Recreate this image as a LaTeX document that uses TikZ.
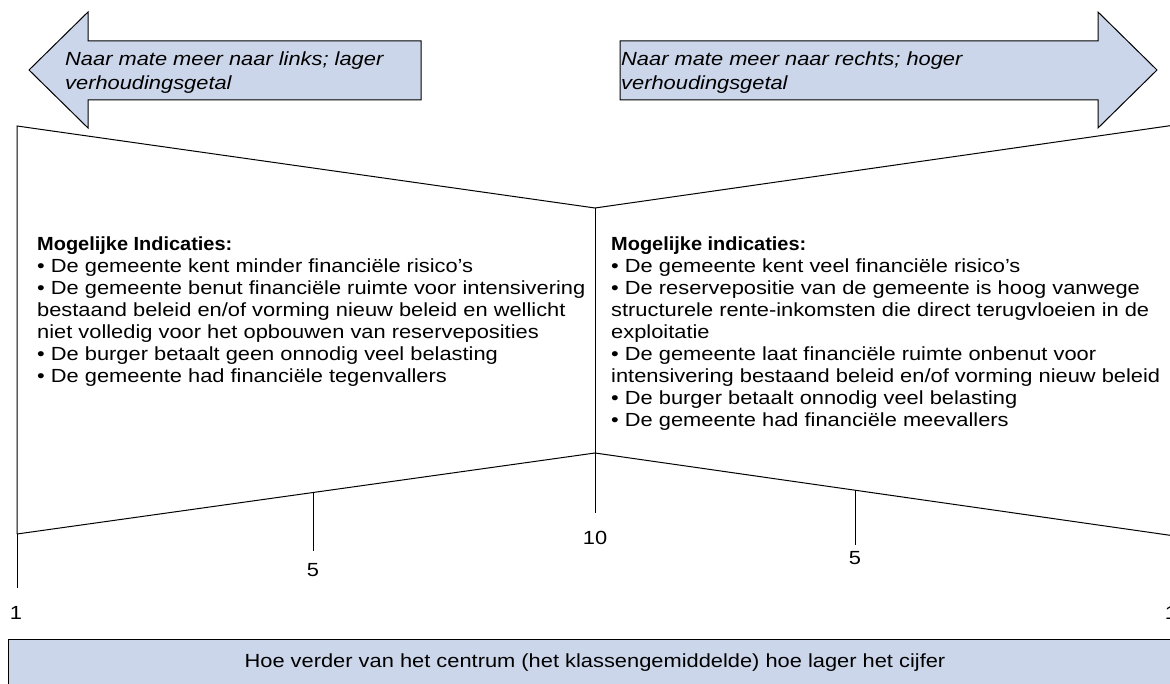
\documentclass[tikz,border=0pt]{standalone}
\usepackage{fontspec}
\setmainfont{Liberation Sans}[FakeStretch=1.15,BoldFeatures={FakeStretch=1.05}]
\definecolor{abl}{RGB}{204,214,234}
\begin{document}
\begin{tikzpicture}[x=1pt,y=-1pt,
  bigarrow/.style={fill=abl, draw=black, line width=1pt, line join=miter},
  outline/.style={draw=black, line width=1pt},
  tick/.style={draw=black, line width=1pt},
  blockt/.style={inner sep=0pt, align=left, anchor=north west, font=\fontsize{19}{22}\selectfont},
  arrowt/.style={inner sep=0pt, align=left, anchor=north west, font=\fontsize{19}{23.5}\selectfont\itshape},
  numt/.style={inner sep=0pt, font=\fontsize{19}{22}\selectfont}]
\useasboundingbox (0,0) rectangle (1170,684);
\clip (0,0) rectangle (1170,684);
% arrows
\path[bigarrow] (29,70) -- (88,12) -- (88,41) -- (421,41) -- (421,100) -- (88,100) -- (88,128) -- cycle;
\path[bigarrow] (1157,70) -- (1098,12) -- (1098,41) -- (620,41) -- (620,100) -- (1098,100) -- (1098,128) -- cycle;
\node[arrowt] (lat) at (65,52) {Naar mate meer naar links; lager\\verhoudingsgetal};
\node[arrowt] (rat) at (621,52) {Naar mate meer naar rechts; hoger\\verhoudingsgetal};
% bow-tie box
\coordinate (tl) at (17,126);
\coordinate (tc) at (595,208);
\coordinate (tr) at (1175,125);
\coordinate (bl) at (17,534);
\coordinate (bc) at (595,453);
\coordinate (br) at (1175,536);
\path[outline] (bl) -- (tl) -- (tc) -- (tr);
\path[outline] (tc) -- (bc);
\path[outline] (bl) -- (bc) -- (br);
% ticks
\coordinate (t1a) at (17,588);
\coordinate (t5a) at (313,493);
\coordinate (t5ab) at (313,551);
\coordinate (t10) at (595,513);
\coordinate (t5b) at (855,490);
\coordinate (t5bb) at (855,545);
\path[tick] (bl) -- (t1a);
\path[tick] (t5a) -- (t5ab);
\path[tick] (bc) -- (t10);
\path[tick] (t5b) -- (t5bb);
\node[numt] (n1a) at (16,613) {1};
\node[numt] (n5a) at (313,570) {5};
\node[numt] (n10) at (595,538) {10};
\node[numt] (n5b) at (855,558) {5};
\node[numt] (n1b) at (1171,613) {1};
% texts
\node[blockt] (lblock) at (37,237) {\textbf{Mogelijke Indicaties:}\\
\textbullet\ De gemeente kent minder financiële risico’s\\
\textbullet\ De gemeente benut financiële ruimte voor intensivering\\
bestaand beleid en/of vorming nieuw beleid en wellicht\\
niet volledig voor het opbouwen van reserveposities\\
\textbullet\ De burger betaalt geen onnodig veel belasting\\
\textbullet\ De gemeente had financiële tegenvallers};
\node[blockt] (rblock) at (611,237) {\textbf{Mogelijke indicaties:}\\
\textbullet\ De gemeente kent veel financiële risico’s\\
\textbullet\ De reservepositie van de gemeente is hoog vanwege\\
structurele rente-inkomsten die direct terugvloeien in de\\
exploitatie\\
\textbullet\ De gemeente laat financiële ruimte onbenut voor\\
intensivering bestaand beleid en/of vorming nieuw beleid\\
\textbullet\ De burger betaalt onnodig veel belasting\\
\textbullet\ De gemeente had financiële meevallers};
% bottom bar
\path[fill=abl, draw=black, line width=1pt] (8,639) rectangle (1180,700);
\node[numt] (bottomt) at (595,663) {Hoe verder van het centrum (het klassengemiddelde) hoe lager het cijfer};
\end{tikzpicture}
\end{document}
